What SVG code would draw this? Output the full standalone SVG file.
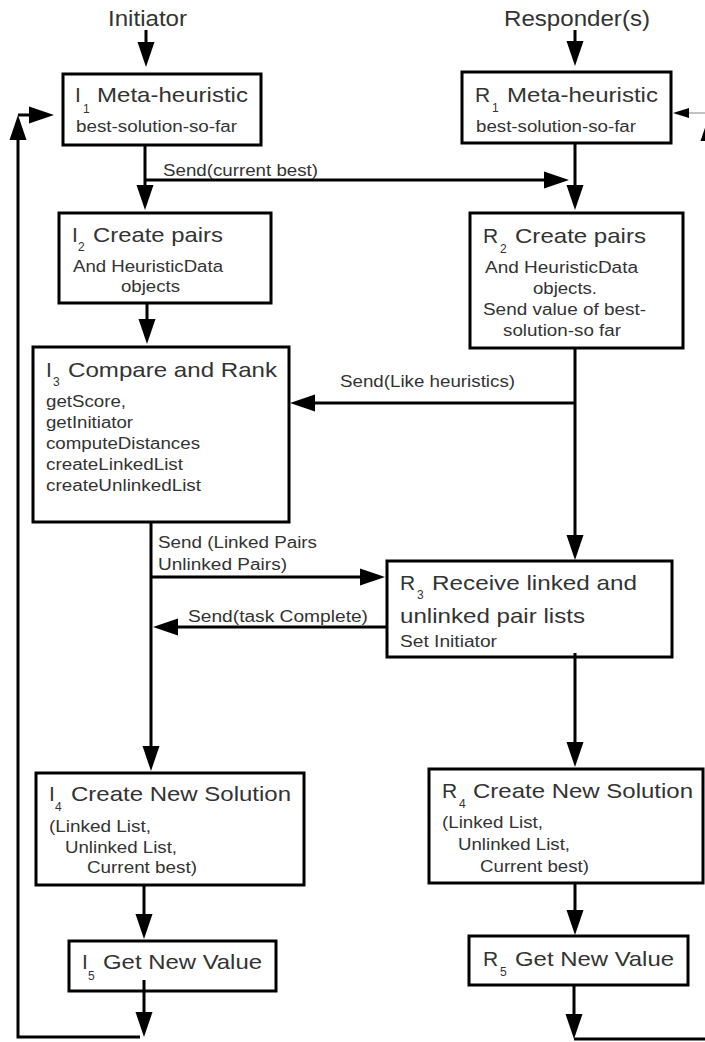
<svg xmlns="http://www.w3.org/2000/svg" width="705" height="1042" viewBox="0 0 705 1042">
  <style>
    text { font-family: "Liberation Sans", Arial, sans-serif; fill: #333; }
    .hd { font-size: 22px; }
    .tt { font-size: 21px; }
    .sb { font-size: 12px; }
    .bd { font-size: 16px; }
    .box { fill: #fff; stroke: #000; stroke-width: 3; }
    .ln { fill: none; stroke: #000; stroke-width: 3; }
    .thin { fill: none; stroke: #999; stroke-width: 1.2; }
  </style>
  <defs>
    <marker id="ah" markerUnits="userSpaceOnUse" markerWidth="26" markerHeight="18" refX="1" refY="8.5" orient="auto" overflow="visible">
      <path d="M0,0 L25,8.5 L0,17 Z" fill="#000"/>
    </marker>
    <marker id="ahs" markerUnits="userSpaceOnUse" markerWidth="17" markerHeight="11" refX="1" refY="5" orient="auto" overflow="visible">
      <path d="M0,0 L16,5 L0,10 Z" fill="#000"/>
    </marker>
  </defs>
  <rect width="705" height="1042" fill="#fff"/>

  <!-- column headings -->
  <text class="hd" x="108" y="26" textLength="79" lengthAdjust="spacingAndGlyphs">Initiator</text>
  <text class="hd" x="504" y="26" textLength="146" lengthAdjust="spacingAndGlyphs">Responder(s)</text>

  <!-- connectors -->
  <g id="connectors">
    <path class="ln" d="M146,30 V43" marker-end="url(#ah)"/>
    <path class="ln" d="M575,30 V42" marker-end="url(#ah)"/>
    <path class="ln" d="M145,145 V186" marker-end="url(#ah)"/>
    <path class="ln" d="M145,180 H545" marker-end="url(#ah)"/>
    <path class="ln" d="M575,143 V186" marker-end="url(#ah)"/>
    <path class="ln" d="M147,303 V320" marker-end="url(#ah)"/>
    <path class="ln" d="M575,348 V536" marker-end="url(#ah)"/>
    <path class="ln" d="M575,403 H314" marker-end="url(#ah)"/>
    <path class="ln" d="M151,522 V747" marker-end="url(#ah)"/>
    <path class="ln" d="M151,577 H361" marker-end="url(#ah)"/>
    <path class="ln" d="M386,627 H177" marker-end="url(#ah)"/>
    <path class="ln" d="M575,653 V743" marker-end="url(#ah)"/>
    <path class="ln" d="M144,885 V915" marker-end="url(#ah)"/>
    <path class="ln" d="M575,883 V911" marker-end="url(#ah)"/>
    <path class="ln" d="M144,980 V1013" marker-end="url(#ah)"/>
    <path class="ln" d="M574,985 V1015" marker-end="url(#ah)"/>
    <!-- initiator loop back to I1 -->
    <path class="ln" d="M140,1037 H18 V139" marker-end="url(#ah)"/>
    <path class="ln" d="M18,115 H30" marker-end="url(#ah)"/>
    <!-- responder loop back to R1 -->
    <path class="ln" d="M574,1039 H709 V140" marker-end="url(#ah)"/>
    <path class="thin" d="M709,113 H688" marker-end="url(#ahs)"/>
    <!-- connector labels -->
    <text class="bd" x="163" y="176" textLength="155" lengthAdjust="spacingAndGlyphs">Send(current best)</text>
    <text class="bd" x="340" y="387" textLength="175" lengthAdjust="spacingAndGlyphs">Send(Like heuristics)</text>
    <text class="bd" x="158" y="548" textLength="159" lengthAdjust="spacingAndGlyphs">Send (Linked Pairs</text>
    <text class="bd" x="158" y="570" textLength="129" lengthAdjust="spacingAndGlyphs">Unlinked Pairs)</text>
    <text class="bd" x="188" y="622" textLength="180" lengthAdjust="spacingAndGlyphs">Send(task Complete)</text>
  </g>

  <!-- initiator column -->
  <g id="I1">
    <rect class="box" x="63" y="74" width="198" height="71"/>
    <text class="tt" x="75" y="102">I</text>
    <text class="sb" x="83" y="113">1</text>
    <text class="tt" x="97" y="102" textLength="151" lengthAdjust="spacingAndGlyphs">Meta-heuristic</text>
    <text class="bd" x="76" y="132" textLength="161" lengthAdjust="spacingAndGlyphs">best-solution-so-far</text>
  </g>
  <g id="I2">
    <rect class="box" x="59" y="213" width="212" height="90"/>
    <text class="tt" x="72" y="242">I</text>
    <text class="sb" x="78" y="251">2</text>
    <text class="tt" x="93" y="242" textLength="130" lengthAdjust="spacingAndGlyphs">Create pairs</text>
    <text class="bd" x="73" y="272" textLength="150" lengthAdjust="spacingAndGlyphs">And HeuristicData</text>
    <text class="bd" x="121" y="292" textLength="59" lengthAdjust="spacingAndGlyphs">objects</text>
  </g>
  <g id="I3">
    <rect class="box" x="33" y="347" width="256" height="175"/>
    <text class="tt" x="46" y="377">I</text>
    <text class="sb" x="53" y="386">3</text>
    <text class="tt" x="68" y="377" textLength="209" lengthAdjust="spacingAndGlyphs">Compare and Rank</text>
    <text class="bd" x="46" y="407" textLength="80" lengthAdjust="spacingAndGlyphs">getScore,</text>
    <text class="bd" x="46" y="428" textLength="87" lengthAdjust="spacingAndGlyphs">getInitiator</text>
    <text class="bd" x="46" y="449" textLength="154" lengthAdjust="spacingAndGlyphs">computeDistances</text>
    <text class="bd" x="46" y="470" textLength="137" lengthAdjust="spacingAndGlyphs">createLinkedList</text>
    <text class="bd" x="46" y="491" textLength="155" lengthAdjust="spacingAndGlyphs">createUnlinkedList</text>
  </g>
  <g id="I4">
    <rect class="box" x="36" y="773" width="268" height="112"/>
    <text class="tt" x="49" y="801">I</text>
    <text class="sb" x="55" y="811">4</text>
    <text class="tt" x="71" y="801" textLength="220" lengthAdjust="spacingAndGlyphs">Create New Solution</text>
    <text class="bd" x="49" y="832" textLength="102" lengthAdjust="spacingAndGlyphs">(Linked List,</text>
    <text class="bd" x="65" y="853" textLength="112" lengthAdjust="spacingAndGlyphs">Unlinked List,</text>
    <text class="bd" x="87" y="873" textLength="110" lengthAdjust="spacingAndGlyphs">Current best)</text>
  </g>
  <g id="I5">
    <rect class="box" x="69" y="941" width="207" height="50"/>
    <text class="tt" x="82" y="969">I</text>
    <text class="sb" x="88" y="980">5</text>
    <text class="tt" x="103" y="969" textLength="159" lengthAdjust="spacingAndGlyphs">Get New Value</text>
  </g>

  <!-- responder column -->
  <g id="R1">
    <rect class="box" x="462" y="72" width="209" height="71"/>
    <text class="tt" x="475" y="102">R</text>
    <text class="sb" x="492" y="112">1</text>
    <text class="tt" x="507" y="102" textLength="151" lengthAdjust="spacingAndGlyphs">Meta-heuristic</text>
    <text class="bd" x="476" y="132" textLength="160" lengthAdjust="spacingAndGlyphs">best-solution-so-far</text>
  </g>
  <g id="R2">
    <rect class="box" x="470" y="213" width="213" height="135"/>
    <text class="tt" x="483" y="243">R</text>
    <text class="sb" x="500" y="253">2</text>
    <text class="tt" x="515" y="243" textLength="131" lengthAdjust="spacingAndGlyphs">Create pairs</text>
    <text class="bd" x="485" y="273" textLength="153" lengthAdjust="spacingAndGlyphs">And HeuristicData</text>
    <text class="bd" x="533" y="294" textLength="64" lengthAdjust="spacingAndGlyphs">objects.</text>
    <text class="bd" x="483" y="315" textLength="163" lengthAdjust="spacingAndGlyphs">Send value of best-</text>
    <text class="bd" x="503" y="336" textLength="118" lengthAdjust="spacingAndGlyphs">solution-so far</text>
  </g>
  <g id="R3">
    <rect class="box" x="387" y="561" width="285" height="96"/>
    <text class="tt" x="400" y="590">R</text>
    <text class="sb" x="417" y="599">3</text>
    <text class="tt" x="432" y="590" textLength="205" lengthAdjust="spacingAndGlyphs">Receive linked and</text>
    <text class="tt" x="400" y="623" textLength="185" lengthAdjust="spacingAndGlyphs">unlinked pair lists</text>
    <text class="bd" x="400" y="647" textLength="97" lengthAdjust="spacingAndGlyphs">Set Initiator</text>
  </g>
  <g id="R4">
    <rect class="box" x="429" y="769" width="274" height="114"/>
    <text class="tt" x="442" y="798">R</text>
    <text class="sb" x="459" y="808">4</text>
    <text class="tt" x="473" y="798" textLength="220" lengthAdjust="spacingAndGlyphs">Create New Solution</text>
    <text class="bd" x="442" y="828" textLength="101" lengthAdjust="spacingAndGlyphs">(Linked List,</text>
    <text class="bd" x="458" y="850" textLength="112" lengthAdjust="spacingAndGlyphs">Unlinked List,</text>
    <text class="bd" x="480" y="872" textLength="109" lengthAdjust="spacingAndGlyphs">Current best)</text>
  </g>
  <g id="R5">
    <rect class="box" x="469" y="936" width="219" height="49"/>
    <text class="tt" x="483" y="966">R</text>
    <text class="sb" x="500" y="976">5</text>
    <text class="tt" x="515" y="966" textLength="159" lengthAdjust="spacingAndGlyphs">Get New Value</text>
  </g>

  <!-- arrows that end inside a box stay visible on top -->
  <g id="overlays">
    <path class="ln" d="M144,980 V991"/>
    <path class="ln" d="M575,653 V657"/>
  </g>
</svg>
